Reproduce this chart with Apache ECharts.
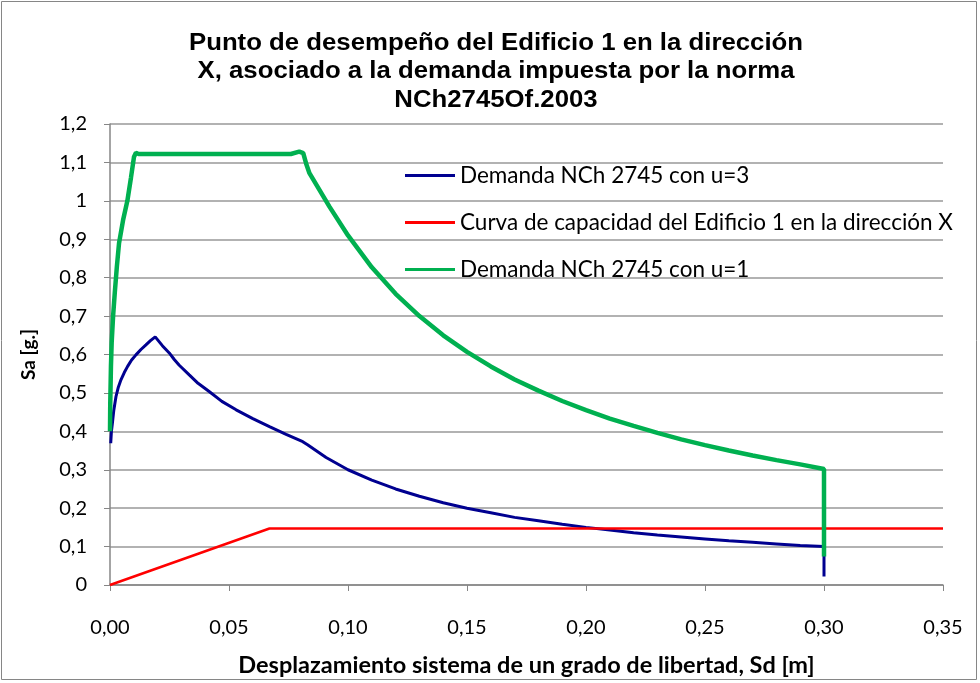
<!DOCTYPE html>
<html>
<head>
<meta charset="utf-8">
<script src="https://cdn.jsdelivr.net/npm/echarts@6/dist/echarts.min.js"></script>
<style>html,body{margin:0;padding:0;background:#fff}#c{width:980px;height:683px}</style>
</head>
<body>
<div id="c"></div>
<script>
var titleText = "Punto de desempeño del Edificio 1 en la dirección\nX, asociado a la demanda impuesta por la norma\nNCh2745Of.2003";
var xName = "Desplazamiento sistema de un grado de libertad, Sd [m]";
var yName = "Sa [g.]";
var seriesNames = ["Demanda NCh 2745 con u=3", "Curva de capacidad del Edificio 1 en la dirección X", "Demanda NCh 2745 con u=1"];

var sdU3 = [0.0003,0.0006,0.001,0.0016,0.0025,0.0035,0.0046,0.006,0.0074,0.009,0.0109,0.013,0.0151,0.017,0.019,0.022,0.0249,0.027,0.0291,0.0333,0.037,0.0418,0.047,0.053,0.060,0.067,0.074,0.081,0.083,0.0908,0.10,0.11,0.12,0.13,0.14,0.15,0.16,0.17,0.18,0.19,0.20,0.21,0.22,0.23,0.24,0.25,0.26,0.27,0.28,0.29,0.30,0.30];
var saU3 = [0.369,0.400,0.421,0.455,0.490,0.515,0.534,0.553,0.569,0.585,0.599,0.613,0.625,0.636,0.646,0.623,0.604,0.587,0.572,0.547,0.525,0.503,0.478,0.456,0.433,0.412,0.392,0.373,0.365,0.332,0.300,0.273,0.250,0.231,0.214,0.200,0.188,0.176,0.167,0.158,0.150,0.143,0.136,0.130,0.125,0.120,0.115,0.111,0.107,0.103,0.100,0.022];

var sdCap = [0, 0.067, 0.35];
var saCap = [0, 0.147, 0.147];

var sdU1 = [0,0.0001,0.0004,0.0007,0.0013,0.002,0.0029,0.0038,0.0055,0.0073,0.0088,0.0101,0.0109,0.012,0.04,0.076,0.0795,0.0812,0.0825,0.0838,0.0922,0.10,0.11,0.12,0.13,0.14,0.15,0.16,0.17,0.18,0.19,0.20,0.21,0.22,0.23,0.24,0.25,0.26,0.27,0.28,0.29,0.30,0.30];
var saU1 = [0.40,0.47,0.57,0.63,0.70,0.76,0.83,0.89,0.95,1.0,1.06,1.115,1.125,1.122,1.122,1.122,1.128,1.124,1.095,1.072,0.985,0.91,0.827,0.758,0.700,0.650,0.607,0.569,0.535,0.506,0.479,0.455,0.433,0.414,0.396,0.379,0.364,0.350,0.337,0.325,0.314,0.302,0.074];

function pairs(xs, ys){ return xs.map(function(x,i){ return [x, ys[i]]; }); }

var chart = echarts.init(document.getElementById('c'));
chart.setOption({
  animation: false,
  backgroundColor: '#fff',
  graphic: [{
    type: 'rect', shape: {x: 1.5, y: 1.5, width: 975, height: 678},
    style: {fill: 'none', stroke: '#868686', lineWidth: 1}, silent: true
  }, {
    type: 'text', x: 496, y: 29, scaleX: 1.12, silent: true,
    style: {text: titleText, font: 'bold 23px "Liberation Sans"', fill: '#000', align: 'center', verticalAlign: 'top', lineHeight: 28.5}
  }],
  grid: {left: 110, right: 37, top: 124, bottom: 98, containLabel: false},
  legend: {
    orient: 'vertical', left: 400, top: 159, itemWidth: 50, itemHeight: 3, itemGap: 24,
    icon: 'rect',
    textStyle: {fontFamily: 'Lato', fontSize: 22.5, color: '#000'},
    data: seriesNames
  },
  xAxis: {
    type: 'value', min: 0, max: 0.35, interval: 0.05,
    name: xName, nameLocation: 'middle', nameGap: 68,
    nameTextStyle: {fontFamily: 'Lato', fontWeight: 'bold', fontSize: 23.5, color: '#000'},
    axisLine: {lineStyle: {color: '#868686', width: 1.5}},
    axisTick: {show: true, length: 6, lineStyle: {color: '#868686'}},
    splitLine: {show: false},
    axisLabel: {margin: 33, fontFamily: 'Lato', fontSize: 20, color: '#000',
      formatter: function(v){ return v.toFixed(2).replace('.', ','); }}
  },
  yAxis: {
    type: 'value', min: 0, max: 1.2, interval: 0.1,
    name: yName, nameLocation: 'middle', nameGap: 72, nameRotate: 90,
    nameTextStyle: {fontFamily: 'Lato', fontWeight: 'bold', fontSize: 19, color: '#000'},
    axisLine: {show: true, lineStyle: {color: '#868686', width: 1.5}},
    axisTick: {show: true, length: 6, inside: false, lineStyle: {color: '#868686'}},
    splitLine: {show: true, lineStyle: {color: '#999', width: 1.5}},
    axisLabel: {margin: 23, fontFamily: 'Lato', fontSize: 20, color: '#000',
      formatter: function(v){ return String(Math.round(v*10)/10).replace('.', ','); }}
  },
  series: [
    {name: seriesNames[0], type: 'line', data: pairs(sdU3, saU3), symbol: 'none', lineStyle: {color: '#000090', width: 3}, itemStyle: {color: '#000090'}},
    {name: seriesNames[1], type: 'line', data: pairs(sdCap, saCap), symbol: 'none', lineStyle: {color: '#FF0000', width: 2.5}, itemStyle: {color: '#FF0000'}},
    {name: seriesNames[2], type: 'line', data: pairs(sdU1, saU1), symbol: 'none', lineStyle: {color: '#00B050', width: 4.5}, itemStyle: {color: '#00B050'}}
  ]
});
</script>
</body>
</html>
